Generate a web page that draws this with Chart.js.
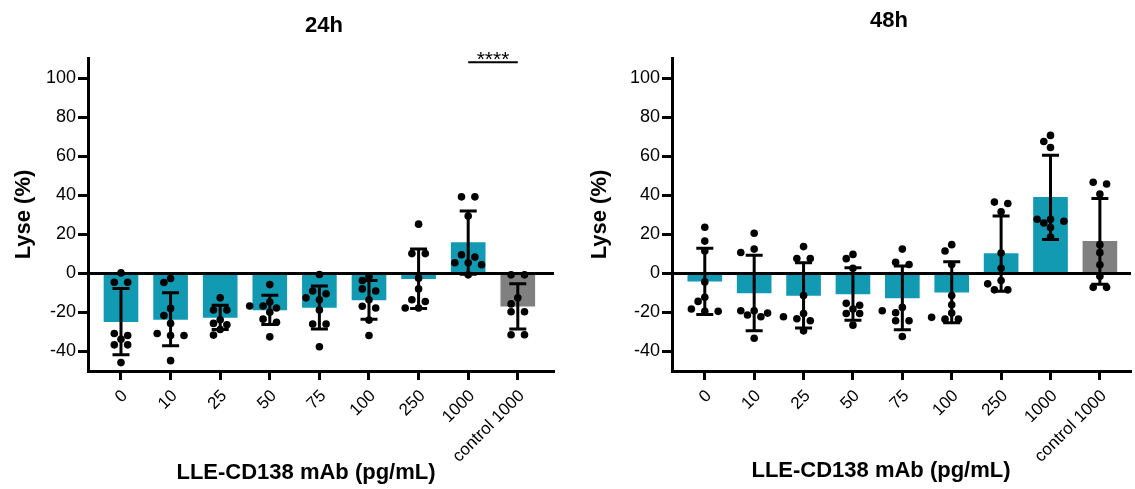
<!DOCTYPE html>
<html>
<head>
<meta charset="utf-8">
<script src="https://cdn.jsdelivr.net/npm/chart.js@4.4.1/dist/chart.umd.min.js"></script>
<style>
  html, body { margin: 0; padding: 0; background: #fff; }
  #wrap { position: relative; width: 1135px; height: 489px; overflow: hidden; }
  #c24 { position: absolute; left: 0; top: 0; }
  #c48 { position: absolute; left: 567px; top: 0; }
</style>
</head>
<body>
<div id="wrap">
  <canvas id="c24" width="567" height="489"></canvas>
  <canvas id="c48" width="568" height="489"></canvas>
</div>
<script>
// --- data ---
const categories = ['0', '10', '25', '50', '75', '100', '250', '1000', 'control 1000'];
const yTicks = [-40, -20, 0, 20, 40, 60, 80, 100];

// 24h
const means24 = [-24.7, -23.5, -22.5, -18.7, -17.4, -13.5, -2.7, 15.8, -16.8];
const sd24 = [17.0, 13.6, 6.2, 7.5, 11.0, 9.9, 15.2, 16.2, 11.6];
const points24 = [
  [0.3, -4.5, -4.5, -30.8, -31.8, -33.7, -36.6, -36.6, -45.7],
  [-2.6, -4.6, -17.9, -21.6, -25.6, -30.8, -31.8, -31.8, -44.7],
  [-12.5, -18.7, -18.7, -23.7, -25.6, -26.3, -28.7, -31.6],
  [-5.7, -14.6, -16.7, -16.7, -17.7, -19.9, -23.4, -25.0, -32.5],
  [-0.5, -9.0, -10.4, -12.5, -13.5, -18.7, -25.9, -25.9, -37.6],
  [-1.5, -3.6, -7.9, -9.0, -13.5, -16.8, -17.7, -23.9, -31.8],
  [25.3, 10.2, 10.2, -2.4, -7.9, -13.5, -14.4, -17.7, -17.7],
  [39.3, 39.3, 29.5, 9.6, 8.4, 5.5, 5.5, 4.5, -0.7],
  [-0.7, -0.7, -12.5, -15.6, -19.6, -19.6, -31.4, -31.4]
];

// 48h
const means48 = [-4.0, -10.0, -11.2, -10.5, -12.5, -9.6, 10.2, 39.0, 16.5];
const sd48 = [17.0, 19.4, 16.7, 13.5, 16.3, 15.6, 19.3, 21.6, 22.0];
const points48 = [
  [23.7, 16.6, 11.5, -4.3, -12.2, -14.3, -18.2, -19.4, -19.4],
  [20.6, 12.5, 10.8, -19.1, -19.1, -20.3, -21.3, -22.2, -33.2],
  [13.8, 7.7, 7.7, -11.3, -20.5, -22.2, -23.2, -24.2, -29.4],
  [9.8, 7.6, 2.7, -15.3, -16.3, -18.2, -20.5, -20.5, -26.5],
  [12.5, 5.8, 4.6, -17.4, -19.1, -20.1, -24.2, -24.2, -32.3],
  [14.8, 11.5, 4.6, -11.3, -16.0, -20.3, -22.5, -23.4, -23.4],
  [36.6, 35.9, 31.6, 10.5, 2.7, -3.6, -5.3, -8.4, -8.4],
  [70.8, 67.7, 64.6, 27.8, 27.8, 26.8, 25.9, 23.6, 18.7],
  [46.8, 45.9, 40.7, 14.8, 10.7, 4.5, -1.4, -7.1, -7.1]
];

const FONT = "'Liberation Sans', Arial, sans-serif";
const TEAL = '#139ab3';
const GREY = '#808080';

// row-based beeswarm (Prism-like): points at about the same height share a
// row centred on the category, rows get nudged sideways if they would overlap
function swarmOffsets(values, toPx) {
  const gap = 13.4, minDist = 7.6;
  const idx = values.map((v, i) => i).sort((a, b) => values[b] - values[a]);
  const off = new Array(values.length).fill(0);
  const placed = [];
  let r = 0;
  while (r < idx.length) {
    const y0 = toPx(values[idx[r]]);
    const row = [idx[r]];
    while (r + row.length < idx.length && toPx(values[idx[r + row.length]]) - y0 < 3) {
      row.push(idx[r + row.length]);
    }
    for (let k = 0; k < 10; k++) {
      const shift = (k % 2 ? -1 : 1) * Math.ceil(k / 2) * gap / 2;
      const xs = row.map((id, j) => (j - (row.length - 1) / 2) * gap + shift);
      const ok = row.every((id, j) =>
        placed.every(p => Math.hypot(p.x - xs[j], p.y - toPx(values[id])) >= minDist));
      if (ok || k === 9) {
        row.forEach((id, j) => {
          off[id] = xs[j];
          placed.push({ x: xs[j], y: toPx(values[id]) });
        });
        break;
      }
    }
    r += row.length;
  }
  return off;
}

const decorPlugin = {
  id: 'decor',
  beforeDatasetDraw(chart, args, o) {
    if (args.index !== 0) return;
    // spread the dots sideways around each category
    const xs = chart.scales.x, ys = chart.scales.y;
    const els = chart.getDatasetMeta(0).data;
    let n = 0;
    o.points.forEach((col, i) => {
      const offs = swarmOffsets(col, v => ys.getPixelForValue(v));
      col.forEach((v, j) => {
        els[n].x = xs.getPixelForValue(i) + offs[j];
        n++;
      });
    });
  },
  afterDatasetDraw(chart, args, o) {
    if (args.index !== 1) return;
    const { ctx, chartArea } = chart;
    const xs = chart.scales.x, ys = chart.scales.y;
    ctx.save();
    ctx.strokeStyle = '#000';
    // zero line
    ctx.lineWidth = 3;
    ctx.beginPath();
    ctx.moveTo(chartArea.left, ys.getPixelForValue(0));
    ctx.lineTo(chartArea.right, ys.getPixelForValue(0));
    ctx.stroke();
    // error bars (mean +/- SD)
    o.means.forEach((m, i) => {
      const x = xs.getPixelForValue(i);
      const yt = ys.getPixelForValue(m + o.sds[i]);
      const yb = ys.getPixelForValue(m - o.sds[i]);
      ctx.beginPath();
      ctx.moveTo(x, yt); ctx.lineTo(x, yb);
      ctx.moveTo(x - 8.5, yt); ctx.lineTo(x + 8.5, yt);
      ctx.moveTo(x - 8.5, yb); ctx.lineTo(x + 8.5, yb);
      ctx.stroke();
    });
    ctx.restore();
  },
  afterDraw(chart, args, o) {
    const { ctx } = chart;
    const xs = chart.scales.x, ys = chart.scales.y;
    ctx.save();
    ctx.fillStyle = '#000';
    ctx.textAlign = 'center';
    ctx.textBaseline = 'alphabetic';
    ctx.font = 'bold 22px ' + FONT;
    ctx.fillText(o.title, o.titleX, o.titleY);
    ctx.fillText('LLE-CD138 mAb (pg/mL)', o.xTitleX, o.xTitleY);
    if (o.sig) {
      const x1 = xs.getPixelForValue(o.sig.from), x2 = xs.getPixelForValue(o.sig.to);
      const y = ys.getPixelForValue(o.sig.at);
      ctx.strokeStyle = '#000';
      ctx.lineWidth = 2;
      ctx.beginPath();
      ctx.moveTo(x1, y); ctx.lineTo(x2, y);
      ctx.stroke();
      ctx.font = '21px ' + FONT;
      ctx.fillText(o.sig.text, (x1 + x2) / 2, y + 4);
    }
    ctx.restore();
  }
};

function buildChart(id, cfg) {
  const dots = [];
  cfg.points.forEach((col, i) => col.forEach(v => dots.push({ x: i, y: v })));

  return new Chart(document.getElementById(id), {
    type: 'bar',
    data: {
      datasets: [
        {
          type: 'scatter',
          data: dots,
          pointRadius: 3.8,
          pointBackgroundColor: '#000',
          pointBorderWidth: 0,
          order: 1
        },
        {
          data: cfg.means.map((v, i) => ({ x: i, y: v })),
          backgroundColor: categories.map(c => c.startsWith('control') ? GREY : TEAL),
          barThickness: 34,
          order: 2
        }
      ]
    },
    options: {
      responsive: false,
      animation: false,
      events: [],
      layout: { padding: { top: 58, right: cfg.padRight, left: 0, bottom: 0 } },
      plugins: {
        legend: { display: false },
        tooltip: { enabled: false },
        decor: {
          points: cfg.points, means: cfg.means, sds: cfg.sds,
          title: cfg.title, titleX: cfg.titleX, titleY: cfg.titleY,
          xTitleX: cfg.xTitleX, xTitleY: cfg.xTitleY, sig: cfg.sig
        }
      },
      scales: {
        x: {
          type: 'linear',
          offset: false,
          min: cfg.xMin,
          max: cfg.xMax,
          afterBuildTicks: s => { s.ticks = categories.map((c, i) => ({ value: i })); },
          afterFit: s => { s.height = 118; },
          ticks: {
            callback: v => categories[v],
            autoSkip: false,
            minRotation: 45,
            maxRotation: 45,
            padding: 6,
            labelOffset: 4,
            color: '#000',
            font: { family: FONT, size: 17 }
          },
          grid: { offset: false, drawOnChartArea: false, tickLength: 9, tickWidth: 3, tickColor: '#000' },
          border: { color: '#000', width: 3 }
        },
        y: {
          min: -50,
          max: 110.5,
          afterBuildTicks: s => { s.ticks = yTicks.map(v => ({ value: v })); },
          afterFit: s => { s.width = cfg.yAxisX; },
          ticks: { color: '#000', padding: 2, font: { family: FONT, size: 18 } },
          grid: { drawOnChartArea: false, tickLength: 10, tickWidth: 3, tickColor: '#000' },
          border: { color: '#000', width: 3 },
          title: {
            display: true,
            text: 'Lyse (%)',
            color: '#000',
            font: { family: FONT, size: 22, weight: 'bold' },
            padding: { top: cfg.yTitlePad, bottom: 0 }
          }
        }
      }
    },
    plugins: [decorPlugin]
  });
}

buildChart('c24', {
  means: means24, sds: sd24, points: points24,
  title: '24h', titleX: 324, titleY: 32,
  xTitleX: 306, xTitleY: 479,
  yAxisX: 88, padRight: 13, yTitlePad: 11,
  xMin: -0.665, xMax: 8.73,
  sig: { from: 7, to: 8, at: 108.3, text: '****' }
});

buildChart('c48', {
  means: means48, sds: sd48, points: points48,
  title: '48h', titleX: 322, titleY: 27,
  xTitleX: 314, xTitleY: 477,
  yAxisX: 105, padRight: 1, yTitlePad: 20,
  xMin: -0.664, xMax: 8.63,
  sig: null
});
</script>
</body>
</html>
